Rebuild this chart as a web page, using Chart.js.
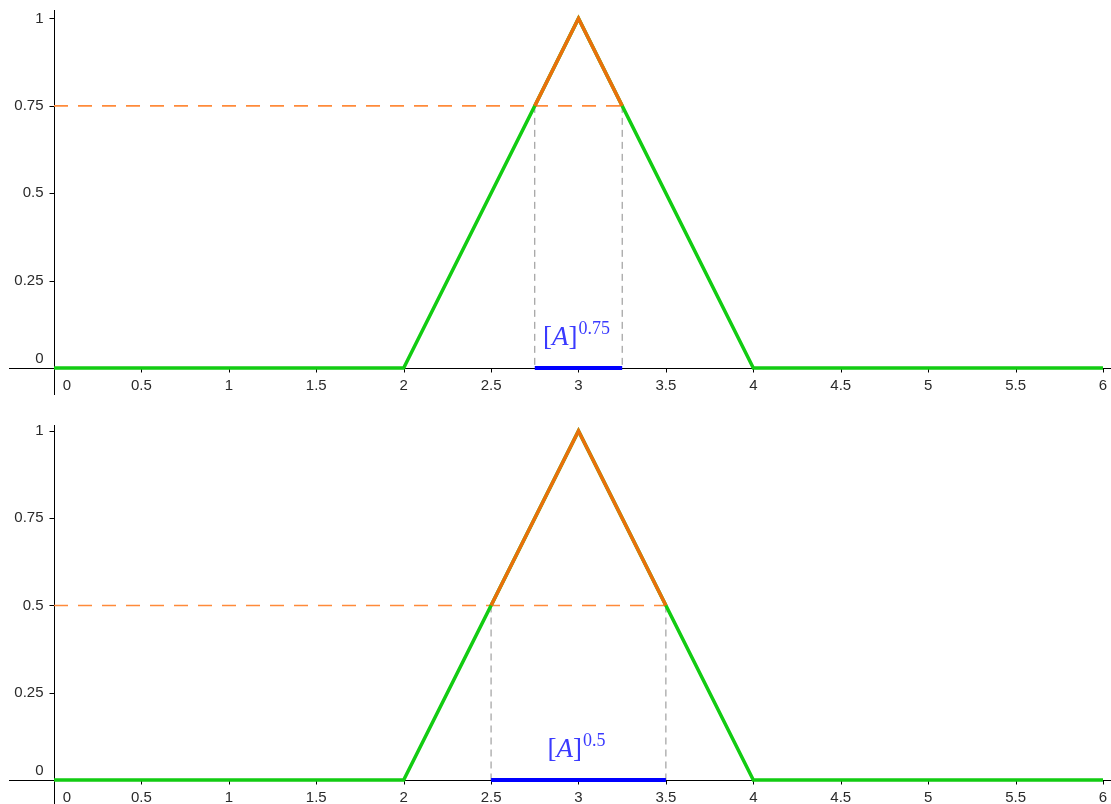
<!DOCTYPE html>
<html><head><meta charset="utf-8">
<script src="https://cdn.jsdelivr.net/npm/chart.js@4.4.1/dist/chart.umd.min.js"></script>
<style>
html,body{margin:0;padding:0;background:#fff;width:1111px;height:804px;overflow:hidden}
.wrap{position:absolute;left:0;width:1111px;height:402px}
canvas{display:block}
</style></head><body>
<div class="wrap" style="top:0"><canvas id="c0" width="1111" height="402"></canvas></div>
<div class="wrap" style="top:402px"><canvas id="c1" width="1111" height="402"></canvas></div>
<script>
// ---- data ----
const xTicks = [0, 0.5, 1, 1.5, 2, 2.5, 3, 3.5, 4, 4.5, 5, 5.5, 6];
const xTickLabels = ['0', '0.5', '1', '1.5', '2', '2.5', '3', '3.5', '4', '4.5', '5', '5.5', '6'];
const yTicks = [0, 0.25, 0.5, 0.75, 1];
const yTickLabels = ['0', '0.25', '0.5', '0.75', '1'];
const membershipX = [0, 2, 3, 4, 6];
const membershipY = [0, 0, 1, 0, 0];
const alphaLevels = [0.75, 0.5];
const alphaLabels = ['0.75', '0.5'];
const cutLeft = [2.75, 2.5];
const cutRight = [3.25, 3.5];
const peakX = 3;
const peakY = 1;
const setName = 'A';

// ---- helpers ----
const pts = (xs, ys) => xs.map((v, i) => ({x: v, y: ys[i]}));

const axesPlugin = {
  id: 'geoAxes',
  beforeDatasetsDraw(chart) {
    const {ctx, chartArea: a, scales: {x, y}} = chart;
    const x0 = Math.round(x.getPixelForValue(0)) + 0.5;
    const y0 = Math.round(y.getPixelForValue(0)) + 0.5;
    ctx.save();
    ctx.strokeStyle = '#000';
    ctx.lineWidth = 1;
    ctx.beginPath();
    ctx.moveTo(a.left, y0); ctx.lineTo(a.right, y0);
    ctx.moveTo(x0, a.top); ctx.lineTo(x0, a.bottom);
    xTicks.forEach(v => {
      if (v === 0) return;
      const px = Math.round(x.getPixelForValue(v)) + 0.5;
      ctx.moveTo(px, y0); ctx.lineTo(px, y0 + 4);
    });
    yTicks.forEach(v => {
      if (v === 0) return;
      const py = Math.round(y.getPixelForValue(v)) + 0.5;
      ctx.moveTo(x0 - 5, py); ctx.lineTo(x0, py);
    });
    ctx.stroke();
    ctx.fillStyle = '#2a2a2a';
    ctx.font = '15px "Liberation Sans", Arial, sans-serif';
    ctx.textBaseline = 'middle';
    ctx.textAlign = 'center';
    xTicks.forEach((v, i) => {
      let px = x.getPixelForValue(v);
      if (v === 0) px += 13;
      ctx.fillText(xTickLabels[i], px, y0 + 17);
    });
    ctx.textAlign = 'right';
    yTicks.forEach((v, i) => {
      let py = y.getPixelForValue(v);
      if (v === 0) py -= 9;
      ctx.fillText(yTickLabels[i], x0 - 11, py);
    });
    ctx.restore();
  }
};

const labelPlugin = {
  id: 'cutLabel',
  afterDatasetsDraw(chart) {
    const idx = chart.options.plugins.cutLabel.index;
    const {ctx, scales: {x, y}} = chart;
    const cx = x.getPixelForValue(peakX) - 2;
    const base = y.getPixelForValue(0) - 23;
    const mainUp = '27px "Liberation Serif", "DejaVu Serif", serif';
    const mainIt = 'italic 27px "Liberation Serif", "DejaVu Serif", serif';
    const supF = '18px "Liberation Serif", "DejaVu Serif", serif';
    const parts = [
      {t: '[', f: mainUp, dy: 0},
      {t: setName, f: mainIt, dy: 0},
      {t: ']', f: mainUp, dy: 0},
      {t: alphaLabels[idx], f: supF, dy: -11, gap: 1}
    ];
    ctx.save();
    let total = 0;
    parts.forEach(p => { ctx.font = p.f; p.w = ctx.measureText(p.t).width; total += p.w + (p.gap || 0); });
    let px = cx - total / 2;
    ctx.fillStyle = '#3a3aff';
    ctx.textBaseline = 'alphabetic';
    ctx.textAlign = 'left';
    parts.forEach(p => {
      px += (p.gap || 0);
      ctx.font = p.f;
      ctx.fillText(p.t, px, base + p.dy);
      px += p.w;
    });
    ctx.restore();
  }
};

const ranges = [
  {ymin: -0.0773, ymax: 1.0243, pad: {left: 9, right: 0, top: 10, bottom: 7}},
  {ymin: -0.0688, ymax: 1.0172, pad: {left: 9, right: 0, top: 23, bottom: 0}}
];

[0, 1].forEach(i => {
  const a = alphaLevels[i];
  new Chart(document.getElementById('c' + i), {
    type: 'line',
    data: {
      datasets: [
        {label: 'cut', data: pts([cutLeft[i], cutRight[i]], [0, 0]), borderColor: '#0000ff', borderWidth: 4, order: 0},
        {label: 'top', data: pts([cutLeft[i], peakX, cutRight[i]], [a, peakY, a]), borderColor: '#ea700a', borderWidth: 3.5, order: 1},
        {label: 'membership', data: pts(membershipX, membershipY), borderColor: '#12cc12', borderWidth: 3.5, order: 2},
        {label: 'alpha', data: pts([0, cutRight[i]], [a, a]), borderColor: '#ff8a3a', borderWidth: 1.6, borderDash: [14, 10], order: 3},
        {label: 'vl', data: pts([cutLeft[i], cutLeft[i]], [a, 0]), borderColor: '#8c8c8c', borderWidth: 1, borderDash: [7, 5], order: 4},
        {label: 'vr', data: pts([cutRight[i], cutRight[i]], [a, 0]), borderColor: '#8c8c8c', borderWidth: 1, borderDash: [7, 5], order: 5}
      ]
    },
    options: {
      responsive: false,
      animation: false,
      devicePixelRatio: 1,
      layout: {padding: ranges[i].pad},
      elements: {point: {radius: 0, hoverRadius: 0}, line: {tension: 0, fill: false, borderCapStyle: 'butt'}},
      scales: {
        x: {type: 'linear', min: -0.2574, max: 6.0459, display: false},
        y: {type: 'linear', min: ranges[i].ymin, max: ranges[i].ymax, display: false}
      },
      plugins: {legend: {display: false}, tooltip: {enabled: false}, cutLabel: {index: i}},
      events: []
    },
    plugins: [axesPlugin, labelPlugin]
  });
});
</script>
</body></html>
